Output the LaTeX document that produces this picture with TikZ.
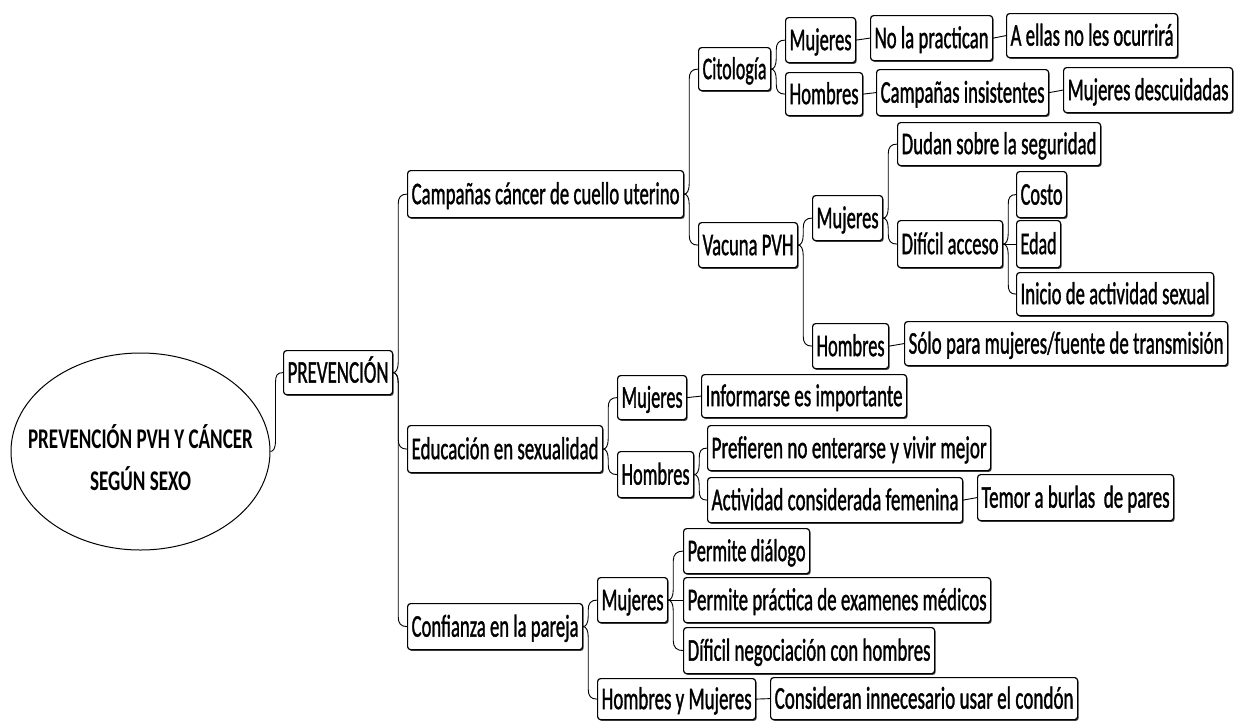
\documentclass[tikz,border=0pt]{standalone}
\usepackage{graphicx}
\usepackage{fontspec}
\setmainfont{Carlito}
\newfontfamily\boxfont{Carlito}[FakeBold=1.5]
\usetikzlibrary{shapes.geometric,shadows,calc}
\newsavebox\fitbox
\newcommand\fitw[2]{\sbox\fitbox{#2}\pgfmathsetmacro\fsc{(#1)/\the\wd\fitbox}\scalebox{\fsc}[1]{\usebox\fitbox}}
\tikzset{
  box/.style={draw, line width=1.2pt, rounded corners=3pt, fill=white,
    inner xsep=0pt, inner ysep=0pt, text height=26pt, text depth=6pt,
    font=\boxfont\fontsize{31.5}{36}\selectfont, anchor=north west,
    drop shadow={shadow xshift=1.1pt, shadow yshift=-1.3pt, fill=black, opacity=0.75}},
  conn/.style={draw, line width=0.9pt},
  rootlbl/.style={font=\bfseries\fontsize{28.5}{34}\selectfont, anchor=base, inner sep=0pt}
}
\newcommand\bx[6]{\pgfmathsetmacro\bw{#4-#2}\pgfmathsetmacro\bh{#5-#3}%
  \node[box, minimum width=\bw pt, minimum height=\bh pt] (#1) at (#2pt,-#3pt) {\fitw{\bw-8}{#6}};}
\newcommand\cn[2]{\draw[conn] let \p1=(#1.east), \p2=(#2.west), \n1={sign(\y2-\y1)} in
  (\p1) .. controls ({\x1+3pt},\y1) and ({\x1+5pt},{\y1+4pt*\n1}) .. ({\x1+5pt},{\y1+10pt*\n1})
  -- ({\x1+5pt},{\y2-10pt*\n1}) .. controls ({\x1+5pt},{\y2-3pt*\n1}) and ({\x2-6pt},\y2) .. (\p2);}
\newcommand\sn[2]{\draw[conn] (#1.east) -- (#2.west);}
\begin{document}
\begin{tikzpicture}
\fill[white] (0pt,0pt) rectangle (1235pt,-721pt);
\useasboundingbox (0pt,0pt) rectangle (1235pt,-721pt);
% root
\node[draw, ellipse, line width=1pt, minimum width=259pt, minimum height=197pt, inner sep=0pt] (root) at (140.5pt,-451.5pt) {};
\node[rootlbl] (roota) at (140.5pt,-448pt) {\fitw{225}{PREVENCIÓN PVH Y CÁNCER}};
\node[rootlbl] (rootb) at (140.5pt,-490pt) {\fitw{101}{SEGÚN SEXO}};
% boxes
\bx{prev}{283}{350}{392}{394}{PREVENCIÓN}
\bx{camp}{407}{170}{683}{217}{Campañas cáncer de cuello uterino}
\bx{cito}{698}{47}{770}{90}{Citología}
\bx{vac}{698}{222}{797}{267}{Vacuna PVH}
\bx{citm}{785}{17}{855}{62}{Mujeres}
\bx{cith}{785}{72}{862}{115}{Hombres}
\bx{nolap}{870}{15}{992}{60}{No la practican}
\bx{aellas}{1006}{13}{1177}{57}{A ellas no les ocurrirá}
\bx{campins}{876}{69}{1048}{115}{Campañas insistentes}
\bx{mujdes}{1063}{67}{1232}{112}{Mujeres descuidadas}
\bx{vacm}{812}{195}{882}{240}{Mujeres}
\bx{dudan}{897}{122}{1100}{165}{Dudan sobre la seguridad}
\bx{dificil}{897}{220}{1002}{267}{Difícil acceso}
\bx{costo}{1016}{171}{1066}{217}{Costo}
\bx{edad}{1016}{220}{1060}{267}{Edad}
\bx{inicio}{1016}{272}{1213}{315}{Inicio de actividad sexual}
\bx{vach}{812}{323}{888}{368}{Hombres}
\bx{solo}{904}{321}{1227}{365}{Sólo para mujeres/fuente de transmisión}
\bx{edu}{407}{425}{602}{472}{Educación en sexualidad}
\bx{edum}{617}{375}{686}{419}{Mujeres}
\bx{info}{701}{374}{906}{417}{Informarse es importante}
\bx{eduh}{617}{451}{693}{497}{Hombres}
\bx{pref}{707}{425}{990}{470}{Prefieren no enterarse y vivir mejor}
\bx{activ}{707}{477}{962}{522}{Actividad considerada femenina}
\bx{temor}{977}{474}{1173}{520}{Temor a burlas\ \ de pares}
\bx{conf}{407}{603}{582}{649}{Confianza en la pareja}
\bx{confm}{597}{577}{667}{622}{Mujeres}
\bx{dialogo}{683}{528}{809}{573}{Permite diálogo}
\bx{practica}{683}{577}{990}{622}{Permite práctica de examenes médicos}
\bx{negoc}{683}{627}{934}{673}{Díficil negociación con hombres}
\bx{hym}{597}{678}{755}{719}{Hombres y Mujeres}
\bx{consid}{770}{677}{1077}{719}{Consideran innecesario usar el condón}
% connectors
\cn{root}{prev}
\cn{prev}{camp}
\cn{prev}{edu}
\cn{prev}{conf}
\cn{camp}{cito}
\cn{camp}{vac}
\cn{cito}{citm}
\cn{cito}{cith}
\sn{citm}{nolap}
\sn{nolap}{aellas}
\sn{cith}{campins}
\sn{campins}{mujdes}
\cn{vac}{vacm}
\cn{vac}{vach}
\cn{vacm}{dudan}
\cn{vacm}{dificil}
\cn{dificil}{costo}
\sn{dificil}{edad}
\cn{dificil}{inicio}
\sn{vach}{solo}
\cn{edu}{edum}
\cn{edu}{eduh}
\sn{edum}{info}
\cn{eduh}{pref}
\cn{eduh}{activ}
\sn{activ}{temor}
\cn{conf}{confm}
\cn{conf}{hym}
\cn{confm}{dialogo}
\sn{confm}{practica}
\cn{confm}{negoc}
\sn{hym}{consid}
\end{tikzpicture}
\end{document}
